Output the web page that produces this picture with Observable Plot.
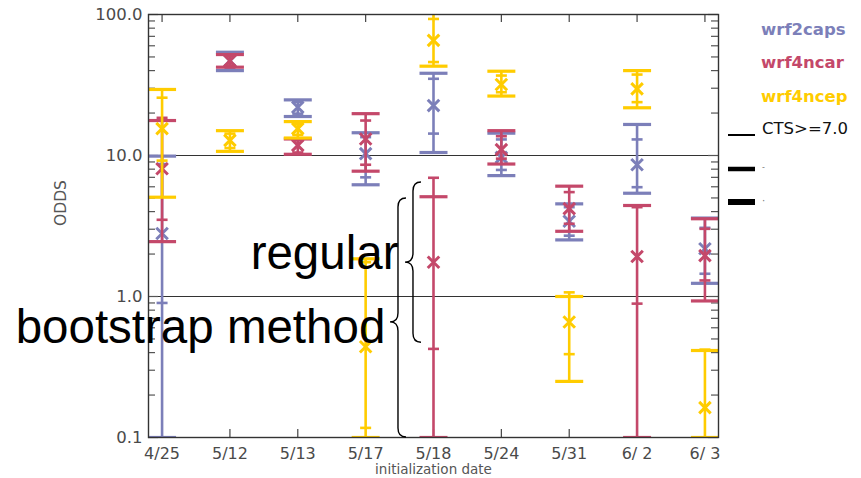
<!DOCTYPE html>
<html><head><meta charset="utf-8">
<script src="https://cdn.jsdelivr.net/npm/d3@7"></script>
<script src="https://cdn.jsdelivr.net/npm/@observablehq/plot@0.6"></script>
<style>body{margin:0;background:#fff}#chart svg{display:block}</style>
</head><body><div id="chart"></div>
<script>
// ---------- data ----------
const dates = ["4/25","5/12","5/13","5/17","5/18","5/24","5/31","6/ 2","6/ 3"];
const seriesNames = ["wrf2caps","wrf4ncar","wrf4ncep"];
const seriesColors = ["#7c7fb9","#c4486a","#ffcc00"];

// wrf2caps
const capsOdds   = [2.8, 47, 22, 10.3, 22.6, 9.7, 3.42, 8.6, 2.18];
const capsRegLo  = [0.9, 41.5, 19.8, 7.0, 14.3, 7.9, 2.7, 5.96, 1.45];
const capsRegHi  = [8.7, 52, 24, 13.5, 35, 13, 4.3, 13, 3.07];
const capsBootLo = [0.1, 40, 18.9, 6.2, 10.5, 7.2, 2.52, 5.4, 1.24];
const capsBootHi = [9.9, 54, 24.8, 14.5, 38.3, 14.4, 4.54, 16.6, 3.6];
// wrf4ncar
const ncarOdds   = [8.05, 47, 11.8, 13.1, 1.75, 11.0, 4.2, 1.92, 1.95];
const ncarRegLo  = [3.5, 43.5, 10.5, 8.6, 0.425, 9.5, 3.28, 0.89, 1.3];
const ncarRegHi  = [18.5, 51, 12.8, 17.7, 6.95, 13.7, 5.5, 4.3, 3.02];
const ncarBootLo = [2.45, 42.3, 10.2, 7.74, 0.1, 8.7, 2.9, 0.1, 0.93];
const ncarBootHi = [17.7, 52, 13.1, 19.8, 5.1, 15.0, 6.06, 4.42, 3.56];
// wrf4ncep
const ncepOdds   = [15.5, 12.8, 15.5, 0.44, 65.5, 31.9, 0.66, 29.7, 0.163];
const ncepRegLo  = [9.2, 11.3, 14.0, 0.117, 46, 28.1, 0.39, 23.9, 0.064];
const ncepRegHi  = [25.7, 14.3, 16.8, 1.75, 93, 36.9, 1.07, 37.5, 0.42];
const ncepBootLo = [5.06, 10.7, 13.3, 0.1, 43, 26.4, 0.25, 21.8, 0.1];
const ncepBootHi = [29.4, 15.0, 17.4, 1.85, 120, 39.6, 1.0, 40, 0.414];

const yTickValues = [0.1, 1, 10, 100];
const yTickLabels = ["0.1", "1.0", "10.0", "100.0"];
const refLines = [1, 10];
const legendExtra = ["CTS>=7.0", "-", "\u00b7"];

// annotations
const annText = ["regular", "bootstrap method"];
const annX = [3.484, 3.29];
const annY = [2.02, 0.603];
const braceX = [3.705, 3.484];
const braceTop = [6.44, 4.95];
const braceBottom = [0.47, 0.1];
const braceTip = [1.74, 0.655];

// ---------- build ----------
const seriesData = [
  [capsOdds, capsRegLo, capsRegHi, capsBootLo, capsBootHi],
  [ncarOdds, ncarRegLo, ncarRegHi, ncarBootLo, ncarBootHi],
  [ncepOdds, ncepRegLo, ncepRegHi, ncepBootLo, ncepBootHi]
];
const rowsFor = s => dates.map((d, i) => {
  const [o, rl, rh, bl, bh] = seriesData[s];
  return {i, odds: o[i], regLo: rl[i], regHi: rh[i], bootLo: bl[i], bootHi: bh[i],
          lo: Math.min(rl[i], bl[i], o[i]), hi: Math.max(rh[i], bh[i], o[i])};
});

const hline = {draw(ctx, size) { const r = Math.sqrt(size / Math.PI); ctx.moveTo(-r, 0); ctx.lineTo(r, 0); }};

const W = 861, H = 478, ML = 148, MR = 143, MT = 14, MB = 41;
const PW = W - ML - MR, PH = H - MT - MB;
const yMinor = [0.1, 1, 10].flatMap(d => d3.range(2, 10).map(k => k * d));
const xIdx = d3.range(dates.length);

const seriesMarks = seriesNames.flatMap((name, s) => {
  const rows = rowsFor(s);
  const c = seriesColors[s];
  return [
    Plot.ruleX(rows, {x: "i", y1: "lo", y2: "hi", stroke: c, strokeWidth: 2.6, clip: true}),
    Plot.dot(rows, {x: "i", y: "bootLo", symbol: hline, r: 14, stroke: c, fill: "none", strokeWidth: 3.2, clip: true}),
    Plot.dot(rows, {x: "i", y: "bootHi", symbol: hline, r: 14, stroke: c, fill: "none", strokeWidth: 3.2, clip: true}),
    Plot.dot(rows, {x: "i", y: "regLo", symbol: hline, r: 5.5, stroke: c, fill: "none", strokeWidth: 2.6, clip: true}),
    Plot.dot(rows, {x: "i", y: "regHi", symbol: hline, r: 5.5, stroke: c, fill: "none", strokeWidth: 2.6, clip: true}),
    Plot.dot(rows, {x: "i", y: "odds", symbol: "times", r: 5.3, stroke: c, strokeWidth: 3, clip: true})
  ];
});

function braces(index, scales) {
  const g = d3.create("svg:g");
  braceX.forEach((bx, k) => {
    const x = scales.x(bx), y1 = scales.y(braceTop[k]), y2 = scales.y(braceBottom[k]), ym = scales.y(braceTip[k]);
    const w = 8, r = 9;
    const p = `M${x + w},${y1}Q${x},${y1} ${x},${y1 + r}L${x},${ym - r}Q${x},${ym} ${x - w},${ym}` +
              `Q${x},${ym} ${x},${ym + r}L${x},${y2 - r}Q${x},${y2} ${x + w},${y2}`;
    g.append("path").attr("d", p).attr("fill", "none").attr("stroke", "#000").attr("stroke-width", 1.4);
  });
  return g.node();
}

function legend(index, scales, values, dim) {
  const g = d3.create("svg:g").attr("text-anchor", "start");
  const x0 = dim.width - dim.marginRight;
  const nameY = [29, 62, 96];
  seriesNames.forEach((n, k) => {
    g.append("text").attr("x", x0 + 43).attr("y", nameY[k]).attr("dy", "0.35em")
      .attr("fill", seriesColors[k]).attr("font-family", "DejaVu Sans").attr("font-weight", "bold")
      .attr("font-size", 16.5).text(n);
  });
  const lineY = [135, 169, 202];
  const lineW = [2, 4.5, 6];
  const textY = [128, 167, 200];
  const textSize = [16.5, 8, 10];
  legendExtra.forEach((t, k) => {
    g.append("line").attr("x1", x0 + 10).attr("x2", x0 + 37).attr("y1", lineY[k]).attr("y2", lineY[k])
      .attr("stroke", "#000").attr("stroke-width", lineW[k]);
    g.append("text").attr("x", x0 + 44).attr("y", textY[k]).attr("dy", "0.35em")
      .attr("fill", k === 0 ? "#111" : "#777").attr("font-family", "DejaVu Sans")
      .attr("font-size", textSize[k]).text(t);
  });
  return g.node();
}

const chart = Plot.plot({
  width: W, height: H,
  marginLeft: ML, marginRight: MR, marginTop: MT, marginBottom: MB,
  x: {type: "linear", domain: [-0.2, 8.2], axis: null},
  y: {type: "log", domain: [0.1, 100], axis: null},
  style: {fontFamily: "DejaVu Sans", background: "#fff"},
  marks: [
    Plot.ruleY(refLines, {stroke: "#333", strokeWidth: 1.2}),
    // ticks: left, right, bottom, top
    Plot.tickY(yMinor, {stroke: "#555", strokeWidth: 1.2, insetRight: PW - 7}),
    Plot.tickY(yTickValues, {stroke: "#555", strokeWidth: 1.2, insetRight: PW - 10}),
    Plot.tickY(yMinor, {stroke: "#555", strokeWidth: 1.2, insetLeft: PW - 7}),
    Plot.tickY(yTickValues, {stroke: "#555", strokeWidth: 1.2, insetLeft: PW - 10}),
    Plot.tickX(xIdx, {x: d => d, stroke: "#444", strokeWidth: 1.2, insetTop: PH - 8}),
    Plot.tickX(xIdx, {x: d => d, stroke: "#444", strokeWidth: 1.2, insetBottom: PH - 8}),
    ...seriesMarks,
    Plot.frame({stroke: "#333", strokeWidth: 1.4}),
    // tick labels
    Plot.text(yTickValues, {y: d => d, frameAnchor: "left", dx: -6, textAnchor: "end", lineAnchor: "middle",
      text: (d, i) => yTickLabels[i], fontSize: 16.5, fill: "#4a4a4a", ariaLabel: "ylabels"}),
    Plot.text(xIdx, {x: d => d, frameAnchor: "bottom", dy: 16, lineAnchor: "middle",
      text: d => dates[d], fontSize: 16, fill: "#4a4a4a"}),
    Plot.text(["ODDS"], {frameAnchor: "left", dx: -87, rotate: -90, text: d => d, fontSize: 15.5, fill: "#555"}),
    Plot.text(["initialization date"], {frameAnchor: "bottom", dy: 32, lineAnchor: "middle",
      text: d => d, fontSize: 13.5, fill: "#555"}),
    // annotations
    Plot.text(annText, {x: (d, i) => annX[i], y: (d, i) => annY[i], text: d => d, textAnchor: "end",
      fontFamily: "Liberation Sans", fontSize: 47.5, fill: "#000"}),
    braces,
    legend
  ]
});
d3.select(chart).selectAll('g[aria-label="ylabels"] text').style("letter-spacing", "1.2px");
document.getElementById("chart").appendChild(chart);
</script>
</body></html>
